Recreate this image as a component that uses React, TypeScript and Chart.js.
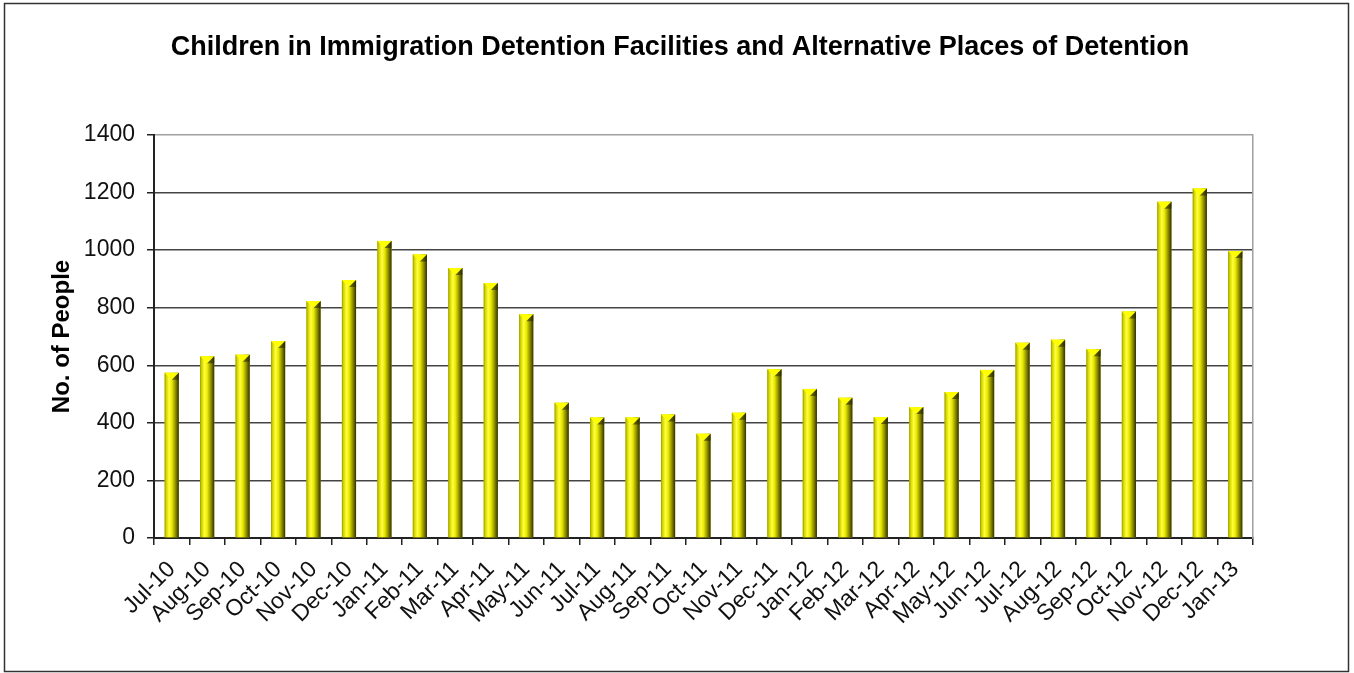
import React, { useEffect, useRef } from "react";
import { Chart, registerables } from "chart.js";

Chart.register(...registerables);

const categories = [
  "Jul-10", "Aug-10", "Sep-10", "Oct-10", "Nov-10", "Dec-10",
  "Jan-11", "Feb-11", "Mar-11", "Apr-11", "May-11", "Jun-11",
  "Jul-11", "Aug-11", "Sep-11", "Oct-11", "Nov-11", "Dec-11",
  "Jan-12", "Feb-12", "Mar-12", "Apr-12", "May-12", "Jun-12",
  "Jul-12", "Aug-12", "Sep-12", "Oct-12", "Nov-12", "Dec-12",
  "Jan-13",
];

const children = [
  574, 631, 637, 684, 823, 896,
  1032, 985, 938, 886, 777, 470,
  419, 419, 429, 362, 435, 586,
  518, 487, 420, 455, 507, 584,
  678, 689, 656, 787, 1168, 1214,
  997,
];

const yMin = 0;
const yMax = 1400;
const yStep = 200;

const titleText =
  "Children in Immigration Detention Facilities and Alternative Places of Detention";
const yTitleText = "No. of People";

const FONT = "'Liberation Sans', Arial, sans-serif";

const framePlugin = {
  id: "frame",
  beforeDraw(chart: any) {
    const { ctx, width, height } = chart;
    ctx.save();
    ctx.fillStyle = "#ffffff";
    ctx.fillRect(0, 0, width, height);
    ctx.restore();
  },
  afterDraw(chart: any) {
    const { ctx } = chart;
    ctx.save();
    ctx.strokeStyle = "#333333";
    ctx.lineWidth = 1.5;
    ctx.strokeRect(4.5, 3.5, 1344, 668);
    ctx.restore();
  },
};

const barShadePlugin = {
  id: "barShade",
  afterDatasetsDraw(chart: any) {
    const meta = chart.getDatasetMeta(0);
    const ctx = chart.ctx;
    ctx.save();
    meta.data.forEach((el: any) => {
      const { x, y, base, width } = el.getProps(["x", "y", "base", "width"], true);
      const l = x - width / 2;
      const r = x + width / 2;
      const g = ctx.createLinearGradient(l, 0, r, 0);
      g.addColorStop(0, "#9a9a00");
      g.addColorStop(0.12, "#d6d600");
      g.addColorStop(0.32, "#ffff40");
      g.addColorStop(0.52, "#e8e800");
      g.addColorStop(0.76, "#909000");
      g.addColorStop(1, "#303000");
      ctx.fillStyle = g;
      ctx.fillRect(l, y, width, base - y);
      const capH = Math.min(7, base - y);
      ctx.beginPath();
      ctx.moveTo(l, y);
      ctx.lineTo(r, y);
      ctx.lineTo(x, y + capH);
      ctx.closePath();
      ctx.fillStyle = "#ffff00";
      ctx.fill();
      ctx.beginPath();
      ctx.moveTo(r, y);
      ctx.lineTo(x, y + capH);
      ctx.lineTo(r, y + capH);
      ctx.closePath();
      ctx.fillStyle = "rgba(40,40,0,0.6)";
      ctx.fill();
    });
    ctx.restore();
  },
};

export default function App() {
  const ref = useRef<HTMLCanvasElement | null>(null);

  useEffect(() => {
    document.body.style.margin = "0";
    if (!ref.current) return;
    const chart = new Chart(ref.current, {
      type: "bar",
      data: {
        labels: categories,
        datasets: [
          {
            label: "Children",
            data: children,
            backgroundColor: "#d8d800",
            borderWidth: 0,
            categoryPercentage: 1,
            barPercentage: 0.4,
          },
        ],
      },
      options: {
        responsive: false,
        animation: false,
        devicePixelRatio: 1,
        layout: { padding: { left: 6, right: 0, top: 0, bottom: 0 } },
        plugins: {
          legend: { display: false },
          tooltip: { enabled: false },
          title: {
            display: true,
            text: titleText,
            color: "#000000",
            font: { family: FONT, size: 27, weight: "bold" },
            padding: { top: 31, bottom: 71.6 },
          },
        },
        scales: {
          x: {
            grid: {
              offset: true,
              drawOnChartArea: false,
              drawTicks: true,
              tickLength: 7,
              tickColor: "#222222",
              lineWidth: 1.5,
            },
            border: { display: true, color: "#222222", width: 2 },
            ticks: {
              autoSkip: false,
              maxRotation: 45,
              minRotation: 45,
              color: "#111111",
              padding: 11,
              font: { family: FONT, size: 23 },
            },
            afterFit: (s: any) => {
              s.height = 135;
            },
          },
          y: {
            min: yMin,
            max: yMax,
            ticks: {
              stepSize: yStep,
              color: "#111111",
              padding: 12,
              font: { family: FONT, size: 23 },
              callback: (v: any) => String(v),
            },
            grid: {
              color: (c: any) => (c.tick && c.tick.value === yMax ? "#a0a0a0" : "#444444"),
              lineWidth: 1.5,
              tickLength: 7,
              tickColor: "#222222",
            },
            border: { display: true, color: "#222222", width: 2 },
            title: {
              display: true,
              text: yTitleText,
              color: "#000000",
              font: { family: FONT, size: 24, weight: "bold" },
              padding: { top: 42, bottom: 0 },
            },
            afterFit: (s: any) => {
              s.width = 148;
            },
          },
          yRight: {
            type: "linear",
            position: "right",
            min: yMin,
            max: yMax,
            grid: { drawOnChartArea: false, drawTicks: false },
            ticks: { display: false },
            border: { display: true, color: "#a0a0a0", width: 1.5 },
            afterFit: (s: any) => {
              s.width = 101;
            },
          },
        },
      } as any,
      plugins: [framePlugin, barShadePlugin],
    });
    return () => chart.destroy();
  }, []);

  return (
    <div style={{ width: 1354, height: 673 }}>
      <canvas ref={ref} width={1354} height={673} style={{ width: 1354, height: 673, display: "block" }} />
    </div>
  );
}
